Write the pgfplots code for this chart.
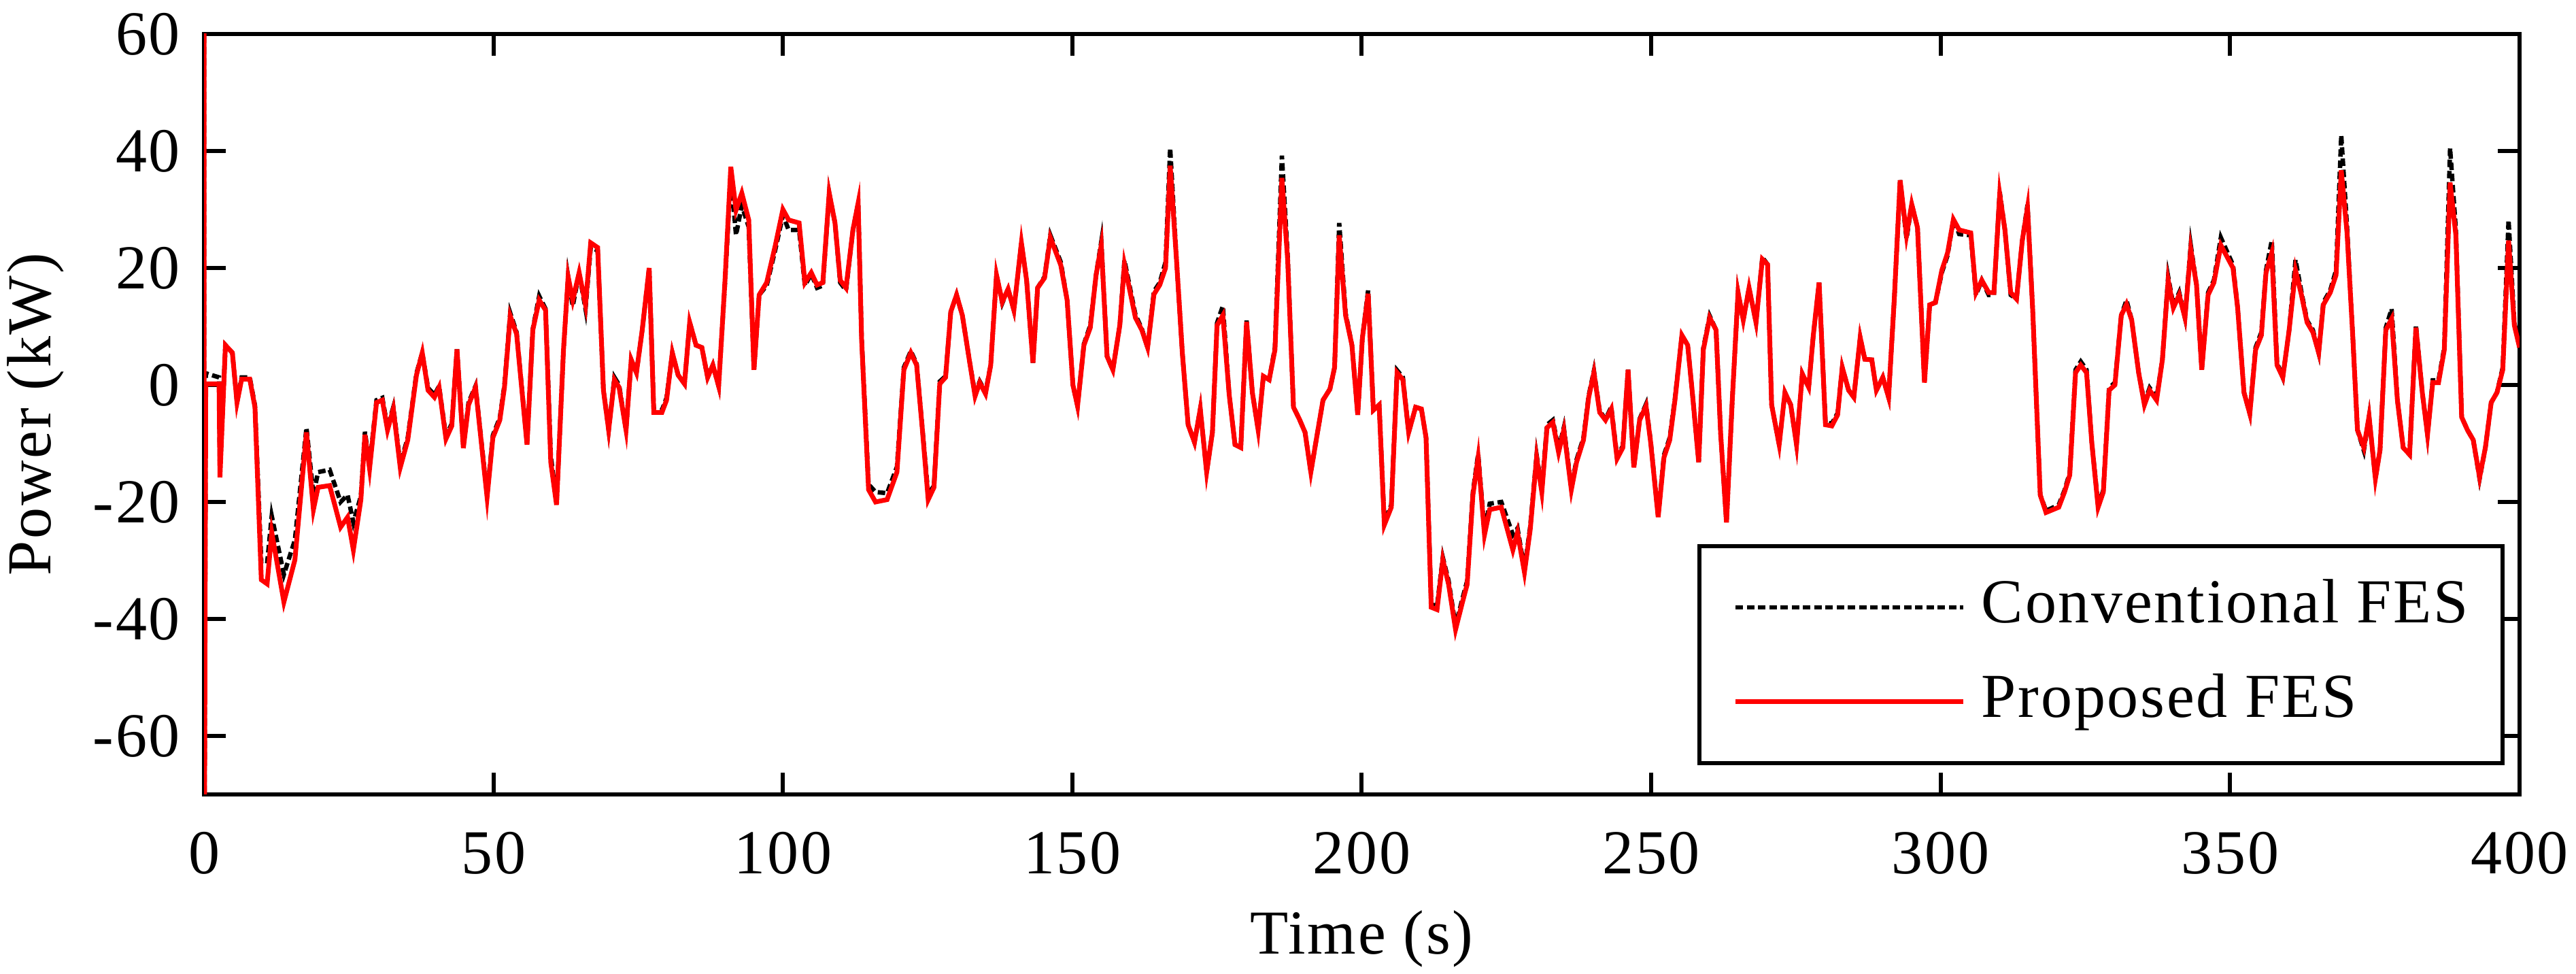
\documentclass[border=0pt]{standalone}
\usepackage{fontspec}
\setmainfont{Liberation Serif}[LetterSpace=3]
\usepackage{pgfplots}
\usepackage{pgfplotstable}
\pgfplotsset{compat=1.18}
\pgfplotstableread{
t p c
0 100 100
0.02 -100 -100
0.3 0.2 2.0
2.6 0.2 1.3
2.75 -15.8 -15.0
3.7 6.8 6.8
4.9 5.5 5.5
5.7 -3 -3
6.5 1 1.3
7.9 1 1.3
8.8 -3.8 -3.5
9.9 -33.3 -30.5
10.9 -34 -30.5
11.7 -25.2 -22.4
13.8 -37.1 -32.4
15.7 -29.9 -26.5
17.7 -8.1 -7.3
18.9 -21.3 -18.8
19.7 -17.5 -14.9
21.7 -17.2 -14.5
23.6 -24.3 -20
24.8 -22.6 -18.8
25.8 -28.2 -23.5
27.1 -19.6 -19
27.8 -8.5 -8
28.6 -14.3 -13.8
29.8 -3 -2.6
30.8 -2.6 -2.2
31.7 -7.7 -7.2
32.7 -4.1 -3.8
33.9 -14.1 -13.5
35.2 -9.4 -9
36.7 1.7 2
37.7 5.5 5.5
38.7 -0.9 -0.5
39.8 -2.1 -1.7
40.6 -0.4 -0.2
41.8 -9.2 -8.8
42.8 -7 -6.6
43.7 6.1 6.1
44.8 -10.8 -10.4
45.7 -3.4 -3
46.9 -0.4 -0.2
48.9 -19.2 -18.8
49.9 -9 -8.6
51.1 -6 -5.6
51.9 -0.4 0
52.9 11.8 12.3
54.0 8.7 9
55.8 -10.2 -10
56.8 9.4 9.6
57.9 14.5 15.2
59.0 12.8 13
59.9 -13.2 -12
60.9 -20.5 -20.2
62.1 6 6
62.9 18.5 18.5
63.7 14.5 13.5
64.8 19.2 19.2
65.9 13.7 13
66.8 24.3 23.5
68.0 23.5 23
69.0 -0.9 -0.9
69.9 -7.7 -7.7
70.9 0.9 1.3
71.7 -0.4 0
72.9 -7.7 -7.7
73.8 4.3 4.3
74.7 2.1 2.1
75.7 9.4 9.4
76.9 20 20
77.7 -4.7 -4.3
79.1 -4.7 -4.3
79.9 -2.6 -2.2
80.9 5.5 5.5
81.9 1.7 1.7
83.0 0.2 0.2
83.9 10.7 10.7
85.0 6.8 6.8
86.0 6.4 6.4
87.0 1.3 1.3
87.9 3.4 3.4
88.9 -0.2 -0.2
90.0 17.9 17.5
91.0 37.3 36
91.9 29.9 25.6
92.9 32.8 30.7
94.1 28.2 27
95.0 2.6 2.6
95.9 15.4 15.4
97.2 17.5 17
98.7 23.9 23.2
100.0 30 29
101.0 28.2 26.5
102.8 27.7 26.5
103.8 17.5 17
104.9 19.2 19
105.9 17.1 16.6
106.9 17.5 17
108.0 32.8 32.8
109.0 27.7 27.7
109.9 17.9 17.5
110.9 16.6 16.2
112.1 26.5 26.5
113.0 31.1 31.1
113.6 7.7 8
114.8 -17.9 -17
116.0 -20 -18.3
118.0 -19.6 -18.5
119.7 -14.9 -14
120.9 2.6 3
122.1 5.5 5.8
123.1 3.4 3.6
124.1 -7.7 -7.5
125.1 -19.6 -18.8
126.1 -17.5 -17.2
127.1 0.2 0.6
128.1 1.3 1.5
129.0 12.5 12.5
130.0 15.4 15.4
131.0 11.9 11.9
132.2 4.3 4.3
133.2 -1.9 -1.5
134.0 0.4 0.6
135.0 -1.5 -1.2
135.9 3.4 3.4
136.9 18.8 18.8
137.9 14.2 14
138.9 16.4 16.4
139.9 12.8 12.8
141.2 24.3 24.3
142.1 17.9 17.9
143.2 3.8 3.8
144.0 16.6 16.6
145.2 18.3 18.5
146.2 25.2 25.6
148.0 20.5 21
149.1 14.5 14.5
150.1 0 0
150.9 -3.6 -3.6
152.0 6.8 7
153.1 9.8 10.2
154.1 18.8 18.8
155.0 23.9 24.5
156.0 4.9 4.9
157.0 2.6 2.6
158.2 10.2 10.2
159.0 20.6 21.3
160.9 11.5 12
162.0 9.4 9.6
163.0 6.4 6.4
164.1 15.5 16
165.1 17.1 17.5
166.1 20 21
166.9 37.5 40.5
168.0 21.3 21.3
169.0 5.5 5.5
170.0 -6.8 -6.8
171.1 -9.8 -9.8
172.1 -4.1 -4.1
173.2 -14.9 -14.9
174.2 -8.1 -8.1
175.0 10.2 10.6
176.0 11.9 13.5
177.1 -1.7 -1.7
178.1 -10.2 -10.2
179.1 -10.7 -10.7
180.1 10.8 11
181.1 -1.3 -1.3
182.1 -7.7 -7.7
183.0 1.5 1.5
184.0 0.9 0.9
185.0 6 6.4
186.2 35.4 39.2
187.2 21.3 22
188.2 -3.8 -3.8
189.2 -5.8 -5.8
190.2 -8.1 -8.1
191.2 -14.9 -14.9
192.2 -9 -9
193.3 -2.6 -2.6
194.5 -0.7 -0.7
195.3 3 3
196.1 25.6 27.7
197.2 11.9 12.3
198.3 6.8 6.8
199.3 -5.1 -5.1
200.1 8 8
201.1 15.6 16.2
202.0 -4.3 -4.3
203.0 -3.4 -3.4
203.9 -23.9 -23.5
205.1 -20.9 -20.5
206.1 2.1 2.5
207.1 0.9 1.3
208.1 -8.1 -8.1
209.3 -3.8 -3.8
210.3 -4.1 -4.1
211.1 -9 -9
212.0 -38 -37.5
213.0 -38.4 -37.8
214.0 -29.9 -29.5
215.0 -34.1 -33.5
216.2 -41.8 -41.2
217.4 -37.1 -36.5
218.2 -34.1 -33.5
219.2 -18.8 -18.3
220.1 -12.4 -11.8
221.2 -25.6 -25
222.1 -21.3 -20.3
224.1 -20.9 -20
226.1 -28.2 -25.6
226.9 -25.2 -24.5
228.1 -32 -31.5
229.1 -24.7 -24.2
230.2 -12.4 -12
231.1 -18.3 -17.8
232.0 -7.3 -6.8
233.0 -6.4 -6
234.0 -11.5 -11
234.9 -7.7 -7.3
236.2 -17.9 -17.5
237.1 -13.2 -12.8
238.3 -9.4 -9
239.2 -2.1 -1.8
240.1 2.1 2.4
241.1 -4.7 -4.5
242.1 -6 -5.8
243.1 -4.1 -3.8
244.1 -12.6 -12.3
245.1 -10.7 -10.4
246.0 2.6 2.6
247.0 -14.1 -14
248.0 -6 -5.8
249.1 -3.6 -3.3
249.9 -9.8 -9.6
251.2 -22.6 -22.4
252.2 -12.4 -12
253.2 -9.4 -9
254.1 -2.6 -2.3
255.3 8.5 8.5
256.3 6.8 6.8
257.1 -1.3 -1.3
258.2 -13.2 -13.2
259.0 6 6.3
260.1 11.5 11.8
261.2 9.4 9.4
262.0 -8.5 -8.5
263.0 -23.5 -23.5
264.0 -2.6 -2.6
265.0 15.8 15.8
265.9 11.1 11.1
266.9 16.6 16.6
268.1 10.7 10.7
269.2 21.5 21.8
270.1 20.6 20.6
270.8 -3.4 -3.4
272.1 -10.2 -10.2
273.1 -1.3 -1.3
274.1 -3.4 -3.4
275.1 -10.2 -10.2
276.1 1.9 1.9
277.2 -0.4 -0.4
278.0 8.5 8.5
279.0 17.5 17.5
280.1 -6.8 -6.4
281.2 -7 -6.6
282.2 -5.1 -4.8
283.0 3 3
284.1 -0.9 -0.9
285.0 -2.1 -2.1
286.1 8.1 8.1
286.9 4.4 4.4
288.1 4.3 4.3
288.9 -0.9 -0.9
290.0 1.3 1.3
291.0 -2.1 -2.1
292.0 14.9 14.9
293.0 35 35
294.1 25.6 25
295.0 30.9 30.9
296.0 26.9 26.9
297.2 0.4 0.4
298.1 13.7 13.7
299.1 14.1 14.1
300.2 19.6 19.2
301.2 22.6 22.2
302.2 28.3 28.3
303.2 26.5 25.8
305.2 26 25.6
306.1 15.8 15.4
307.1 17.9 17.9
308.3 15.8 15.4
309.2 15.8 15.4
310.2 32.6 33
311.1 26.5 26.5
312.1 15.8 15.4
313.1 14.7 14.7
314.1 24.7 24.7
315.0 30.3 30.8
315.9 12.8 12.8
317.2 -18.8 -18.8
318.2 -21.8 -21.5
320.4 -20.9 -20.5
321.4 -18.3 -18
322.3 -15.4 -15
323.3 2.1 2.6
324.2 3.4 4
325.2 2.1 2.6
326.1 -9.8 -9.8
327.2 -20.9 -20.5
328.1 -18.3 -18
329.1 -0.9 -0.5
330.1 0 0.4
331.2 11.9 11.9
332.1 13.8 14.5
333.0 11.1 11.1
334.2 2.1 2.1
335.2 -3.4 -3
336.1 -0.9 -0.5
337.3 -2.6 -2.2
338.3 4.3 4.3
339.3 17.9 18.5
340.2 13.2 13.6
341.2 15.4 15.8
342.2 11.5 11.5
343.2 23.2 23.9
344.2 17.1 17.1
345.1 2.6 2.6
346.2 15.4 15.8
347.2 17.5 17.9
348.4 23.9 25.2
350.5 20 20.5
351.3 13.2 13.2
352.4 -1.3 -1.3
353.4 -4.9 -4.9
354.4 6 6.4
355.4 8.5 9
356.2 19.2 19.6
357.2 22.6 24.7
358.1 3.4 3.8
359.1 1.3 1.3
360.2 9.4 9.4
361.3 19.6 21.4
362.3 15.5 16
363.3 10.7 11
364.3 9 9.4
365.3 5.5 5.5
366.1 13.7 14.1
367.3 15.8 16.2
368.3 18.8 19.6
369.2 36.7 42.7
370.2 26 27
371.2 8.1 8.1
372.0 -7.7 -7.7
373.1 -10.7 -11.2
374.0 -5.4 -5.4
375.1 -16 -16
375.9 -11.1 -11.1
376.9 9.4 9.8
377.9 11.3 13
378.9 -2.6 -2.6
379.9 -10.7 -10.7
381.0 -11.9 -11.9
382.1 9.8 10.2
383.2 -1.3 -1.3
384.1 -8.5 -8.5
385.0 0.4 0.8
386.0 0.4 0.8
387.0 6 6.4
388.0 34.6 40.5
389.0 25.6 26.5
390.0 -5.5 -5.5
391.0 -7.7 -7.7
392.0 -9.4 -9.4
393.1 -15.8 -16
394.1 -10.7 -10.7
395.1 -3 -3
396.1 -1.3 -1.3
397.1 2.6 3
398.1 24.7 28.2
399.1 10.2 10.6
400.0 6.4 6.4
}\fesdata

\begin{document}
\begin{tikzpicture}[font=\fontsize{9.2bp}{11bp}\selectfont]
\begin{axis}[
  at={(30bp,26.4bp)}, anchor=south west,
  scale only axis, width=340.5bp, height=111.8bp,
  xmin=0, xmax=400, ymin=-70, ymax=60,
  xtick={0,50,...,400}, ytick={-60,-40,...,60},
  tick align=inside, major tick length=3.2bp,
  axis line style={line width=0.6bp},
  tick style={line width=0.6bp, black},
  /pgf/number format/assume math mode=true,
  tick label style={font=\fontsize{9.2bp}{11bp}\selectfont},
  xticklabel style={yshift=-2bp},
  xlabel={Time (s)}, ylabel={Power (kW)},
  x label style={at={(axis description cs:0.5,-0.2093)}, anchor=base, font=\fontsize{9.2bp}{11bp}\selectfont},
  y label style={at={(axis description cs:-0.0661,0.5)}, anchor=base, font=\fontsize{9.2bp}{11bp}\selectfont},
  legend cell align=left,
  legend image code/.code={\draw[#1] (0bp,0bp) -- (33.5bp,0bp);},
  legend style={at={(axis description cs:0.9935,0.0385)}, anchor=south east,
    draw=black, line width=0.6bp, fill=white,
    font=\fontsize{9.2bp}{11bp}\selectfont,
    inner xsep=5bp, inner ysep=4.75bp, row sep=5.4bp,
    nodes={inner sep=0pt, text height=6.5bp, text depth=2bp},
    /tikz/every odd column/.append style={column sep=2.3bp}},
]
\addplot[black, line width=0.65bp, dash pattern=on 1.1bp off 0.55bp] table[x=t, y=c] {\fesdata};
\addlegendentry{Conventional FES}
\addplot[red, line width=0.7bp] table[x=t, y=p] {\fesdata};
\addlegendentry{Proposed FES}
\end{axis}
\pgfresetboundingbox
\path[use as bounding box] (0,0) rectangle (378.8bp,143.2bp);
\end{tikzpicture}
\end{document}
